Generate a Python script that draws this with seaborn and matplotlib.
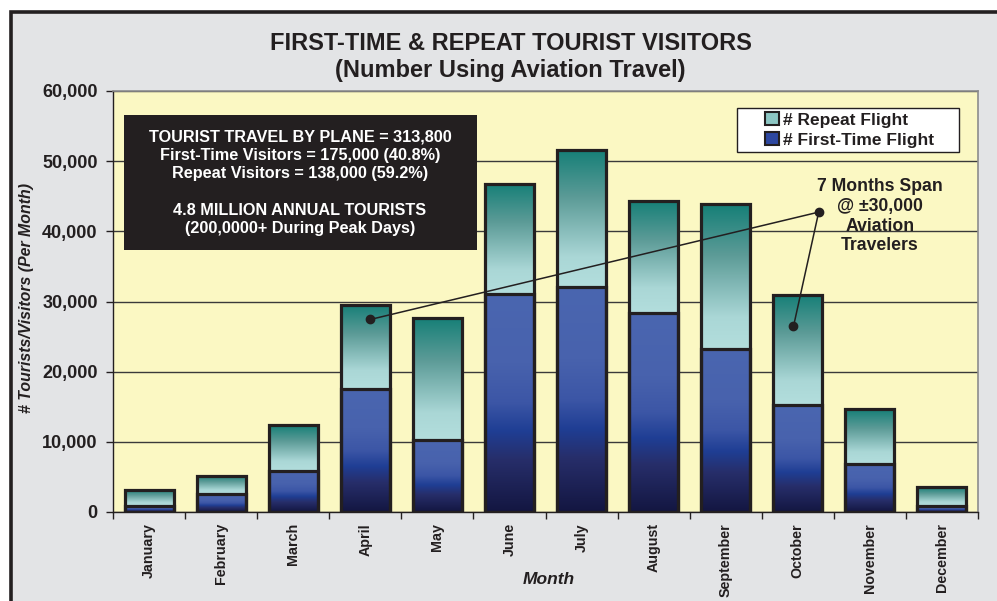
import numpy as np
import pandas as pd
import matplotlib
matplotlib.use("Agg")
import matplotlib.pyplot as plt
import seaborn as sns
from matplotlib.colors import LinearSegmentedColormap
from matplotlib.patches import Rectangle, Patch

# ---- data -------------------------------------------------------------
months = ["January", "February", "March", "April", "May", "June",
          "July", "August", "September", "October", "November", "December"]
first_time = [800, 2500, 5900, 17500, 10300, 31100,
              32000, 28300, 23300, 15200, 6900, 800]
repeat = [2300, 2600, 6500, 12000, 17400, 15700,
          19600, 16000, 20600, 15700, 7800, 2700]
y_ticks = [0, 10000, 20000, 30000, 40000, 50000, 60000]

summary_lines = [
    "TOURIST TRAVEL BY PLANE = 313,800",
    "First-Time Visitors = 175,000 (40.8%)",
    "Repeat Visitors = 138,000 (59.2%)",
    "",
    "4.8 MILLION ANNUAL TOURISTS",
    "(200,0000+ During Peak Days)",
]
span_note = "7 Months Span\n@ \u00b130,000\nAviation\nTravelers"

df = pd.DataFrame({"Month": months, "First": first_time, "Repeat": repeat})
df["Total"] = df["First"] + df["Repeat"]

# ---- style ------------------------------------------------------------
sns.set_theme(style="white")
plt.rcParams["font.family"] = ["Liberation Sans", "DejaVu Sans"]
plt.rcParams["font.weight"] = "bold"
INK = "#231F20"
PLOT_BG = "#FBF8C3"
FRAME_BG = "#E3E4E6"

repeat_cmap = LinearSegmentedColormap.from_list(
    "repeat", [(0.0, "#157F77"), (0.35, "#5C9B97"), (0.78, "#AAD7D6"), (1.0, "#B3DEDD")])
first_cmap = LinearSegmentedColormap.from_list(
    "first", [(0.0, "#4A66B0"), (0.32, "#4862AD"), (0.5, "#3C56A6"),
              (0.63, "#1F3E94"), (0.76, "#272E6A"), (1.0, "#131641")])

fig = plt.figure(figsize=(9.97, 6.01), dpi=100)
fig.patch.set_facecolor("white")
fig.patches.append(Rectangle((11 / 997, -0.2), 1.5, 0.98 + 0.2,
                             transform=fig.transFigure, facecolor=FRAME_BG,
                             edgecolor=INK, linewidth=2.6, zorder=-1))

ax = fig.add_axes([113 / 997, 1 - 512 / 601, 865 / 997, 421 / 601])
ax.set_facecolor(PLOT_BG)

# ---- stacked bars ------------------------------------------------------
sns.barplot(data=df, x="Month", y="Total", order=months, color="#157F77",
            width=0.68, errorbar=None, ax=ax)
sns.barplot(data=df, x="Month", y="First", order=months, color="#2D47A0",
            width=0.68, errorbar=None, ax=ax)
total_bars = ax.patches[:12]
first_bars = ax.patches[12:24]

grad = np.linspace(0, 1, 256).reshape(-1, 1)


def shade(bar, cmap, bottom):
    x0, w = bar.get_x(), bar.get_width()
    top = bar.get_y() + bar.get_height()
    im = ax.imshow(grad, cmap=cmap, aspect="auto", origin="upper",
                   extent=[x0, x0 + w, bottom, top], interpolation="bilinear",
                   zorder=2.5)
    im.set_clip_path(bar)
    bar.set_facecolor("none")
    bar.set_edgecolor(INK)
    bar.set_linewidth(2.3)
    bar.set_zorder(3)


for tb, fb in zip(total_bars, first_bars):
    shade(tb, repeat_cmap, fb.get_y() + fb.get_height())
    shade(fb, first_cmap, fb.get_y())

ax.set_xlim(-0.5, 11.5)
ax.set_ylim(0, 60000)

# ---- axes, grid, ticks -------------------------------------------------
ax.set_axisbelow(True)
ax.yaxis.grid(True, color="#3A3A3A", linewidth=1.0)
ax.xaxis.grid(False)
ax.set_yticks(y_ticks)
ax.set_yticklabels([f"{v:,}" for v in y_ticks], fontsize=13, fontweight="bold", color=INK)
ax.tick_params(axis="y", left=True, length=5, width=1, color=INK, pad=6, direction="out")
ax.set_xticks(range(len(months)))
ax.set_xticklabels(months, rotation=90, fontsize=10.3, fontweight="bold", color=INK)
ax.tick_params(axis="x", which="major", length=0, pad=8)
ax.set_xticks(np.arange(-0.5, len(months), 1), minor=True)
ax.tick_params(axis="x", which="minor", bottom=True, length=5, width=1,
               color=INK, direction="out")
ax.set_xlabel("")
ax.set_ylabel("")
for side in ("left", "bottom"):
    ax.spines[side].set_color(INK)
    ax.spines[side].set_linewidth(1.0)
for side in ("top", "right"):
    ax.spines[side].set_color("#8C8C8C")
    ax.spines[side].set_linewidth(1.2)

# ---- titles and axis labels ---------------------------------------------
fig.text(510.5 / 997, 1 - 57 / 601,
         "FIRST-TIME & REPEAT TOURIST VISITORS\n(Number Using Aviation Travel)",
         ha="center", va="center", fontsize=17, fontweight="bold", color=INK)
fig.text(27 / 997, 1 - 298 / 601, "# Tourists/Visitors (Per Month)",
         rotation=90, ha="center", va="center", fontsize=11.4,
         fontweight="bold", style="italic", color=INK)
fig.text(549 / 997, 1 - 580 / 601, "Month", ha="center", va="center",
         fontsize=12.5, fontweight="bold", style="italic", color=INK)

# ---- summary box -------------------------------------------------------
ax.add_patch(Rectangle((0.0127, 0.6223), 0.408, 0.3207, transform=ax.transAxes,
                       facecolor=INK, edgecolor="none", zorder=5))
ax.text(0.2162, 0.7815, "\n".join(summary_lines), transform=ax.transAxes,
        ha="center", va="center", multialignment="center", fontsize=11.7,
        linespacing=1.28, fontweight="bold", color="white", zorder=6)

# ---- legend ------------------------------------------------------------
ax.add_patch(Rectangle((0.7214, 0.855), 0.2566, 0.1046, transform=ax.transAxes,
                       facecolor="white", edgecolor=INK, linewidth=1.0, zorder=6))
handles = [Patch(facecolor="#8CC6C3", edgecolor=INK, linewidth=1.5, label="# Repeat Flight"),
           Patch(facecolor="#2D47A0", edgecolor=INK, linewidth=1.5, label="# First-Time Flight")]
leg = ax.legend(handles=handles, loc="center", bbox_to_anchor=(0.8515, 0.9074),
                frameon=False, fontsize=12.5, handlelength=0.8, handleheight=0.8,
                handletextpad=0.2, labelspacing=0.25, borderpad=0.0)
for t in leg.get_texts():
    t.set_fontweight("bold")
    t.set_color(INK)
leg.set_zorder(7)

# ---- span annotation ---------------------------------------------------
vertex = (9.29, 42740)
ends = [(3.07, 27440), (8.94, 26440)]
for ex, ey in ends:
    ax.plot([vertex[0], ex], [vertex[1], ey], color=INK, linewidth=1.1, zorder=4)
ax.plot([vertex[0]] + [e[0] for e in ends], [vertex[1]] + [e[1] for e in ends],
        linestyle="none", marker="o", markersize=6, color=INK, zorder=4)
ax.text(0.8867, 0.7025, span_note, transform=ax.transAxes, ha="center", va="center",
        fontsize=12.7, fontweight="bold", color=INK, zorder=6)

fig.savefig("out.png", dpi=100)
